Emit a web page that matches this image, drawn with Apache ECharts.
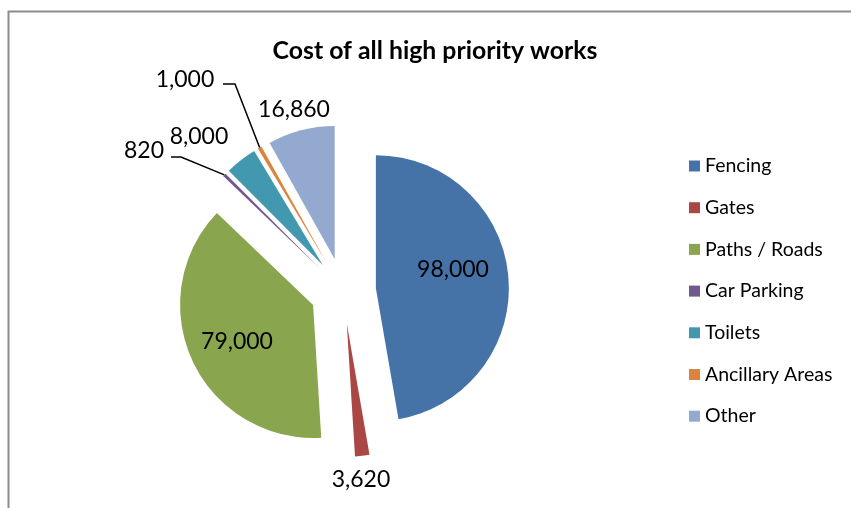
<!DOCTYPE html>
<html><head><meta charset="utf-8">
<script src="https://cdn.jsdelivr.net/npm/echarts@6/dist/echarts.min.js"></script>
<style>html,body{margin:0;padding:0;background:#fff}#chart{width:851px;height:508px}</style>
</head><body><div id="chart"></div>
<script>
// Cost breakdown of high priority works
const categories = ['Fencing', 'Gates', 'Paths / Roads', 'Car Parking', 'Toilets', 'Ancillary Areas', 'Other'];
const costs = [98000, 3620, 79000, 820, 8000, 1000, 16860];
const colors = ['#4572A7', '#AA4643', '#89A54E', '#71588F', '#4198AF', '#DB843D', '#93A9CF'];

// Pie geometry (px)
const CX = 343, CY = 291, R = 133, EXPLODE = 33;
// Value label anchor points (px) and leader line label-side points
const labelSpots = [[453, 270], [361, 480], [237, 342], [144, 151], [199, 137], [185, 80], [294, 110]];
const leaders = { 3: [[171, 157], [181, 157]], 5: [[223, 84], [235, 84]] };

const total = costs.reduce((a, b) => a + b, 0);
// Outer-arc midpoint of an exploded slice, where its leader line ends
function edgePoint(i) {
  const before = costs.slice(0, i).reduce((a, b) => a + b, 0);
  const mid = (before + costs[i] / 2) / total * 2 * Math.PI;
  const d = EXPLODE + R;
  return [CX + Math.sin(mid) * d, CY - Math.cos(mid) * d];
}
const fmt = v => v.toLocaleString('en-US');
const FONT = 'Lato';

const chart = echarts.init(document.getElementById('chart'), null, { renderer: 'canvas' });
chart.setOption({
  animation: false,
  backgroundColor: '#fff',
  color: colors,
  title: {
    text: 'Cost of all high priority works',
    left: 430, top: 34, textAlign: 'center',
    textStyle: { fontFamily: FONT, fontWeight: 'bold', fontSize: 24.8, color: '#000' }
  },
  legend: {
    orient: 'vertical', left: 689, top: 156, padding: 0,
    icon: 'rect', itemWidth: 11, itemHeight: 11, itemGap: 21.7,
    data: categories,
    selectedMode: false,
    textStyle: { fontFamily: FONT, fontSize: 19.5, color: '#000', lineHeight: 20 }
  },
  graphic: [{
    type: 'rect', left: 6, top: 9, z: -1,
    shape: { width: 900, height: 600 },
    style: { fill: 'none', stroke: '#8c8c8c', lineWidth: 2 }
  }],
  series: [{
    // exploded slices
    type: 'pie',
    center: [CX, CY],
    radius: R,
    startAngle: 90,
    clockwise: true,
    selectedMode: 'multiple',
    selectedOffset: EXPLODE,
    itemStyle: { borderWidth: 0 },
    emphasis: { disabled: true },
    label: { show: false },
    labelLine: { show: false },
    data: categories.map((name, i) => ({ name, value: costs[i], selected: true }))
  }, {
    // value labels and leader lines, laid over the slices
    type: 'pie',
    center: [CX, CY],
    radius: R,
    startAngle: 90,
    clockwise: true,
    silent: true,
    z: 5,
    avoidLabelOverlap: false,
    itemStyle: { color: 'rgba(0,0,0,0)', borderWidth: 0 },
    emphasis: { disabled: true },
    label: {
      show: true, position: 'outside',
      fontFamily: FONT, fontSize: 23, color: '#000',
      formatter: p => fmt(p.value)
    },
    labelLine: { show: false, lineStyle: { color: '#000', width: 1.5 } },
    labelLayout: p => {
      const i = p.dataIndex;
      const out = { x: labelSpots[i][0], y: labelSpots[i][1], align: 'center', verticalAlign: 'middle' };
      if (leaders[i]) out.labelLinePoints = [edgePoint(i), leaders[i][1], leaders[i][0]];
      return out;
    },
    data: categories.map((name, i) => ({
      name, value: costs[i],
      labelLine: { show: !!leaders[i] }
    }))
  }]
});
</script>
</body></html>
